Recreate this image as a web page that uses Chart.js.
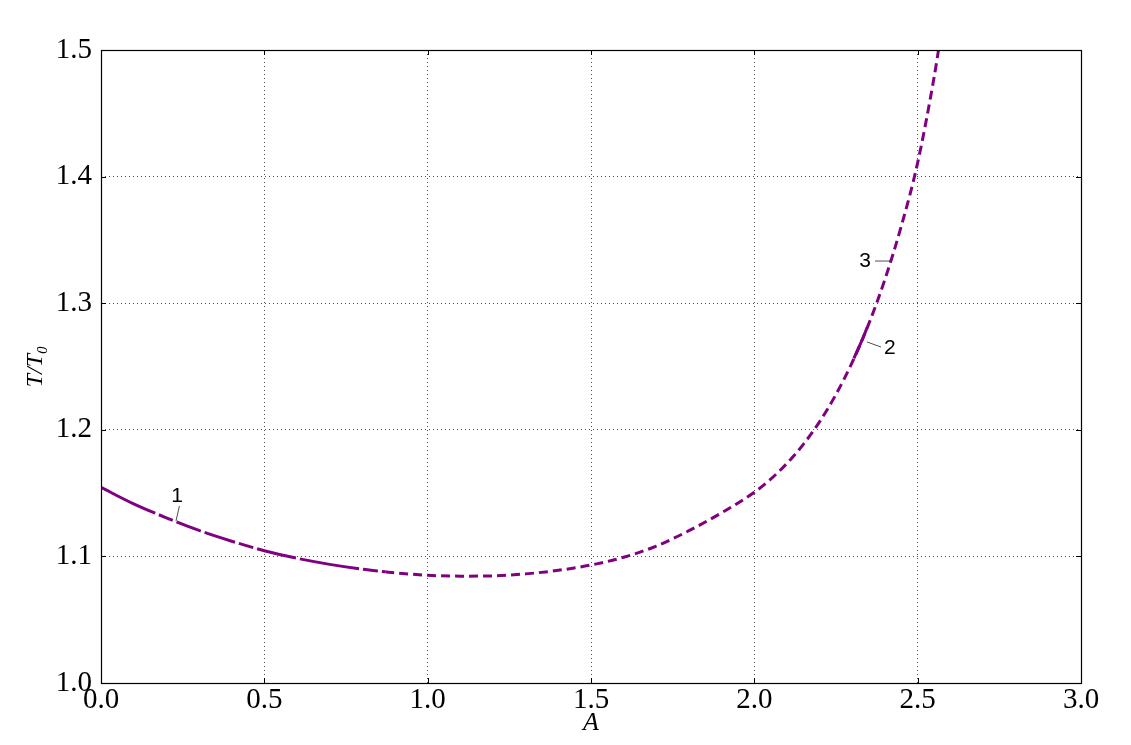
<!DOCTYPE html>
<html>
<head>
<meta charset="utf-8">
<script src="https://cdn.jsdelivr.net/npm/chart.js@4.4.1/dist/chart.umd.min.js"></script>
<style>
  html, body { margin: 0; padding: 0; background: #fff; }
  #wrap { width: 1131px; height: 745px; }
</style>
</head>
<body>
<div id="wrap"><canvas id="chart" width="1131" height="745"></canvas></div>
<script>
// Curve 1: low-A branch (long dashes)
var curve1A = [0, 0.1, 0.2, 0.3, 0.4, 0.5, 0.6, 0.7, 0.8, 0.87];
var curve1T = [1.1545, 1.1415, 1.1305, 1.1205, 1.1120, 1.1045, 1.0985, 1.0937, 1.0899, 1.0878];

// Curve 2: short solid piece
var curve2A = [2.305, 2.325, 2.345];
var curve2T = [1.2565, 1.2680, 1.2805];

// Curve 3: dashed branch
var curve3A = [0.87, 0.9, 1.0, 1.1, 1.2, 1.3, 1.4, 1.5, 1.6, 1.7, 1.8, 1.9, 2.0,
               2.05, 2.1, 2.15, 2.2, 2.25, 2.3, 2.35, 2.4, 2.45, 2.5, 2.55, 2.57];
var curve3T = [1.0878, 1.0870, 1.0851, 1.0844, 1.0846, 1.0862, 1.0890, 1.0932, 1.0993, 1.1082, 1.1203, 1.1345, 1.1506,
               1.1610, 1.1735, 1.1885, 1.2065, 1.2280, 1.2535, 1.2835, 1.3190, 1.3610, 1.4110, 1.4780, 1.5100];

var xTicks = [0.0, 0.5, 1.0, 1.5, 2.0, 2.5, 3.0];
var yTicks = [1.0, 1.1, 1.2, 1.3, 1.4, 1.5];

// curve labels with their leader lines (data coords)
var curveLabels = ['1', '2', '3'];
var labelPos = [[0.233, 1.1477], [2.415, 1.2646], [2.339, 1.3333]];
var leaderFrom = [[0.240, 1.1398], [2.3448, 1.2694], [2.3694, 1.3333]];
var leaderTo = [[0.2296, 1.1280], [2.3877, 1.2654], [2.4153, 1.3333]];

var PURPLE = '#800080';

function toPoints(xs, ys) {
    return xs.map(function(x, i) { return { x: x, y: ys[i] }; });
}

// frame, inward ticks and curve labels
var decorPlugin = {
    id: 'decor',
    afterDraw: function(chart) {
        var ctx = chart.ctx;
        var a = chart.chartArea;
        var xs = chart.scales.x, ys = chart.scales.y;
        ctx.save();
        ctx.strokeStyle = '#000';
        ctx.lineWidth = 1.2;
        ctx.strokeRect(Math.round(a.left) + 0.5, Math.round(a.top) + 0.5,
            Math.round(a.right - a.left), Math.round(a.bottom - a.top));

        var tl = 5;
        ctx.lineWidth = 1;
        ctx.beginPath();
        xTicks.forEach(function(v) {
            var px = Math.round(xs.getPixelForValue(v)) + 0.5;
            ctx.moveTo(px, a.bottom); ctx.lineTo(px, a.bottom - tl);
            ctx.moveTo(px, a.top); ctx.lineTo(px, a.top + tl);
        });
        yTicks.forEach(function(v) {
            var py = Math.round(ys.getPixelForValue(v)) + 0.5;
            ctx.moveTo(a.left, py); ctx.lineTo(a.left + tl, py);
            ctx.moveTo(a.right, py); ctx.lineTo(a.right - tl, py);
        });
        ctx.stroke();

        ctx.lineWidth = 0.8;
        ctx.strokeStyle = '#222';
        ctx.beginPath();
        leaderFrom.forEach(function(p, i) {
            ctx.moveTo(xs.getPixelForValue(p[0]), ys.getPixelForValue(p[1]));
            ctx.lineTo(xs.getPixelForValue(leaderTo[i][0]), ys.getPixelForValue(leaderTo[i][1]));
        });
        ctx.stroke();

        ctx.fillStyle = '#000';
        ctx.font = '21px "Liberation Sans", Arial, sans-serif';
        ctx.textAlign = 'center';
        ctx.textBaseline = 'middle';
        curveLabels.forEach(function(t, i) {
            ctx.fillText(t, xs.getPixelForValue(labelPos[i][0]), ys.getPixelForValue(labelPos[i][1]));
        });
        ctx.restore();
    }
};

var serif = '"Liberation Serif", "DejaVu Serif", serif';
var gridColor = 'rgba(0,0,0,0.7)';

new Chart(document.getElementById('chart'), {
    type: 'line',
    data: {
        datasets: [
            {
                label: '1',
                data: toPoints(curve1A, curve1T),
                borderColor: PURPLE,
                borderWidth: 3,
                borderDash: [60, 4, 15, 4, 26, 4, 32, 4, 15, 4, 40, 4],
                pointRadius: 0,
                cubicInterpolationMode: 'monotone',
                fill: false
            },
            {
                label: '3',
                data: toPoints(curve3A, curve3T),
                borderColor: PURPLE,
                borderWidth: 3,
                borderDash: [9, 5],
                pointRadius: 0,
                cubicInterpolationMode: 'monotone',
                fill: false
            },
            {
                label: '2',
                data: toPoints(curve2A, curve2T),
                borderColor: PURPLE,
                borderWidth: 3,
                pointRadius: 0,
                cubicInterpolationMode: 'monotone',
                fill: false
            }
        ]
    },
    options: {
        responsive: false,
        animation: false,
        layout: { padding: { left: 0, right: 50, top: 50, bottom: 0 } },
        plugins: {
            legend: { display: false },
            tooltip: { enabled: false }
        },
        scales: {
            x: {
                type: 'linear',
                min: 0, max: 3,
                afterFit: function(s) { s.height = 62; },
                afterBuildTicks: function(s) { s.ticks = xTicks.map(function(v) { return { value: v }; }); },
                grid: { color: gridColor, lineWidth: 1, drawTicks: false },
                border: { display: false, dash: [1, 3] },
                ticks: {
                    padding: 0,
                    color: '#000',
                    font: { family: serif, size: 29 },
                    callback: function(v) { return v.toFixed(1); }
                },
                title: {
                    display: true, text: 'A', color: '#000',
                    font: { family: serif, size: 26, style: 'italic' },
                    padding: { top: 0, bottom: 6 }
                }
            },
            y: {
                min: 1.0, max: 1.5,
                afterFit: function(s) { s.width = 101; },
                afterBuildTicks: function(s) { s.ticks = yTicks.map(function(v) { return { value: v }; }); },
                grid: { color: gridColor, lineWidth: 1, drawTicks: false },
                border: { display: false, dash: [1, 3] },
                ticks: {
                    padding: 9,
                    color: '#000',
                    font: { family: serif, size: 29 },
                    callback: function(v) { return v.toFixed(1); }
                },
                title: {
                    display: true, text: 'T/T₀', color: '#000',
                    font: { family: serif, size: 24, style: 'italic' },
                    padding: { top: 21, bottom: 0 }
                }
            }
        }
    },
    plugins: [decorPlugin]
});
</script>
</body>
</html>
